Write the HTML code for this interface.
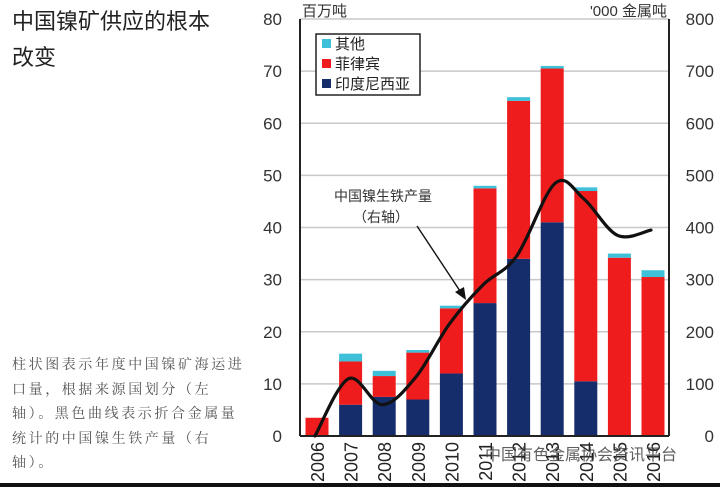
<!DOCTYPE html>
<html><head><meta charset="utf-8"><style>
body{margin:0;background:#fff;}
#wrap{position:relative;width:720px;height:487px;overflow:hidden;background:#fff;font-family:"Liberation Sans","Noto Sans CJK SC",sans-serif;}
.title{position:absolute;left:12px;font-size:22px;color:#222;line-height:36px;top:4px;}
.desc{position:absolute;left:12px;top:352px;font-size:14px;color:#555;line-height:24.5px;letter-spacing:2.6px;width:240px;font-family:"Noto Serif CJK SC","Noto Sans CJK SC",serif;}
</style></head><body>
<div id="wrap">
<div class="title">中国镍矿供应的根本<br>改变</div>
<div class="desc">柱状图表示年度中国镍矿海运进口量，根据来源国划分（左轴）。黑色曲线表示折合金属量统计的中国镍生铁产量（右轴）。</div>
<svg id="chart" width="720" height="487" style="position:absolute;left:0;top:0"></svg>
<div style="position:absolute;left:0;top:483px;width:720px;height:4px;background:#111"></div>
</div>
<script>
const years=["2006","2007","2008","2009","2010","2011","2012","2013","2014","2015","2016"];
const indonesia=[0,6,7.5,7,12,25.5,34,41,10.5,0,0];
const philippines=[3.5,8.3,4,9,12.5,22,30.3,29.5,36.5,34.2,30.5];
const others=[0,1.5,1,0.5,0.5,0.5,0.7,0.5,0.7,0.8,1.3];
const npi=[0,110,60,113,215,290,345,485,455,385,395];
const leftTicks=[0,10,20,30,40,50,60,70,80];
const rightTicks=[0,100,200,300,400,500,600,700,800];

const svg=document.getElementById('chart');
const NS='http://www.w3.org/2000/svg';
const X0=300,X1=669,Y0=436,Y1=19;
const yL=v=>Y0-(v/80)*(Y0-Y1);
const yR=v=>Y0-(v/800)*(Y0-Y1);
const xC=i=>317+i*33.6;
const BW=23;
function mk(tag,attrs,parent){const e=document.createElementNS(NS,tag);for(const k in attrs)e.setAttribute(k,attrs[k]);(parent||svg).appendChild(e);return e;}

leftTicks.forEach((t,i)=>{
  if(t>0){const g=mk('line',{x1:X0,x2:X1,y1:yL(t),y2:yL(t),stroke:'#c8c8cc','stroke-width':1.5});
  
  }
  const tx=mk('text',{x:282,y:yL(t)+6,'text-anchor':'end','font-size':17,fill:'#333'});tx.textContent=t;
  
  
});
rightTicks.forEach(t=>{
  const tx=mk('text',{x:714,y:yR(t)+6,'text-anchor':'end','font-size':17,fill:'#333'});tx.textContent=t;
  
  
});

years.forEach((yr,i)=>{
  const x=xC(i)-BW/2;
  const a=indonesia[i],b=philippines[i],c=others[i];
  const r1=mk('rect',{x:x,y:yL(a),width:BW,height:yL(0)-yL(a),fill:'#152d6b'});
  
  
  const r2=mk('rect',{x:x,y:yL(a+b),width:BW,height:yL(a)-yL(a+b),fill:'#ee1c1c'});
  
  
  const r3=mk('rect',{x:x,y:yL(a+b+c),width:BW,height:yL(a+b)-yL(a+b+c),fill:'#3ec0d8'});
  
  
  const tx=mk('text',{transform:`translate(${xC(i)+7},442) rotate(-90)`,'text-anchor':'end','font-size':18,fill:'#222'});tx.textContent=yr;
  
  
});

const ax1=mk('line',{x1:X0,x2:X0,y1:Y1,y2:Y0,stroke:'#222','stroke-width':2});


const ax2=mk('line',{x1:X1,x2:X1,y1:Y1,y2:Y0,stroke:'#222','stroke-width':2});


const ax3=mk('line',{x1:X0,x2:X1,y1:Y0,y2:Y0,stroke:'#222','stroke-width':2});



const pts=npi.map((v,i)=>[xC(i)-2+(i===7?5:0),yR(v)]);
let d='M'+pts[0][0]+','+pts[0][1];
for(let i=0;i<pts.length-1;i++){
  const p0=pts[Math.max(i-1,0)],p1=pts[i],p2=pts[i+1],p3=pts[Math.min(i+2,pts.length-1)];
  const c1=[p1[0]+(p2[0]-p0[0])/6,p1[1]+(p2[1]-p0[1])/6];
  const c2=[p2[0]-(p3[0]-p1[0])/6,p2[1]-(p3[1]-p1[1])/6];
  d+=` C${c1[0]},${c1[1]} ${c2[0]},${c2[1]} ${p2[0]},${p2[1]}`;
}
const ln=mk('path',{d:d,fill:'none',stroke:'#111','stroke-width':3.2,'stroke-linecap':'round'});



const u1=mk('text',{x:302,y:16,'font-size':15,fill:'#333'});u1.textContent='百万吨';


const u2=mk('text',{x:667,y:16,'text-anchor':'end','font-size':15,fill:'#333'});u2.textContent="'000 金属吨";



const lg=mk('g',{});


mk('rect',{x:316,y:34,width:104,height:61,fill:'#fff',stroke:'#222','stroke-width':1.5},lg);
[['其他','#3ec0d8'],['菲律宾','#ee1c1c'],['印度尼西亚','#152d6b']].forEach((e,i)=>{
  const g=mk('g',{},lg);
  
  
  mk('rect',{x:322,y:39+i*20,width:9,height:9,fill:e[1]},g);
  const t=mk('text',{x:335,y:49+i*20,'font-size':15,fill:'#222'},g);t.textContent=e[0];
});

const an=mk('g',{});


const a1=mk('text',{x:383,y:201,'text-anchor':'middle','font-size':14,fill:'#333'},an);a1.textContent='中国镍生铁产量';
const a2=mk('text',{x:381,y:222,'text-anchor':'middle','font-size':14,fill:'#333'},an);a2.textContent='（右轴）';
mk('line',{x1:417,y1:226,x2:462,y2:294,stroke:'#111','stroke-width':1.4},an);
mk('path',{d:'M466,300 L455,292 L464,287 Z',fill:'#111'},an);

const wm=mk('text',{x:485,y:460,'font-size':16,fill:'#444',opacity:0.85});wm.textContent='中国有色金属协会资讯平台';


</script>
</body></html>
